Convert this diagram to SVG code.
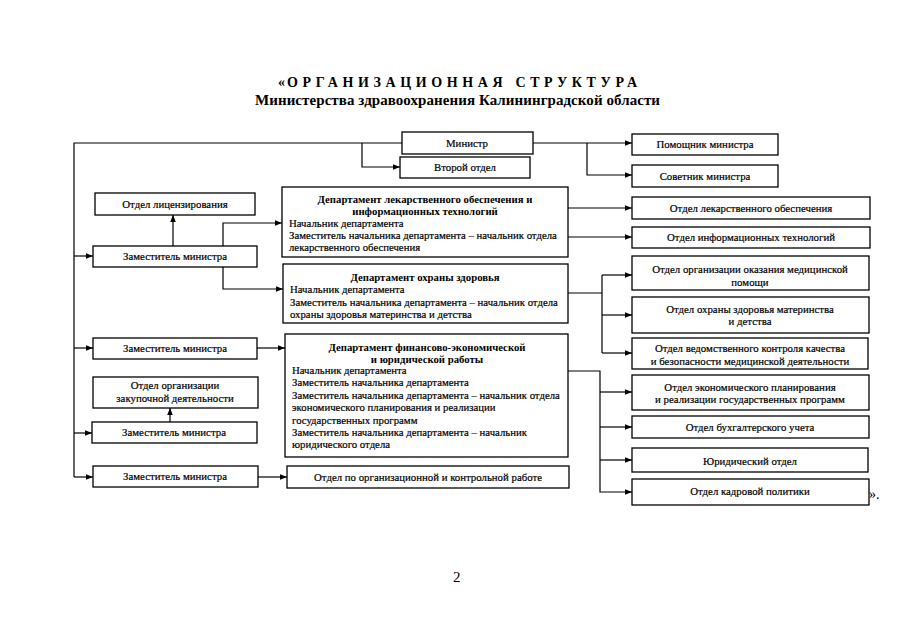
<svg xmlns="http://www.w3.org/2000/svg" width="905" height="640" viewBox="0 0 905 640">
<style>
  .bx{fill:#fff;stroke:#000;stroke-width:1.3}
  .ln{fill:none;stroke:#000;stroke-width:1.2}
  .ar{fill:none;stroke:#000;stroke-width:1.2;marker-end:url(#ah)}
  text{font-family:"Liberation Serif","Times New Roman",serif;fill:#000}
  .lb{font-size:10.8px;text-anchor:middle;stroke:#000;stroke-width:0.2}
  .tt{font-size:10.75px;font-weight:bold;text-anchor:middle}
  .bd{font-size:10.75px;stroke:#000;stroke-width:0.2}
  .h1{font-size:14px;font-weight:bold}
  .h2{font-size:15px;font-weight:bold}
</style>
<defs>
  <marker id="ah" viewBox="0 0 10 10" refX="10" refY="5" markerWidth="7" markerHeight="7" markerUnits="userSpaceOnUse" orient="auto">
    <path d="M0,1 L10,5 L0,9 z" fill="#000"/>
  </marker>
</defs>
<rect width="905" height="640" fill="#fff"/>

<g id="title">
  <text class="h1" x="278" y="87">«</text>
  <text class="h1" x="287" y="87" textLength="350" lengthAdjust="spacing">ОРГАНИЗАЦИОННАЯ СТРУКТУРА</text>
  <text class="h2" x="255" y="105" textLength="405" lengthAdjust="spacing">Министерства здравоохранения Калининградской области</text>
</g>

<g id="connectors">
  <path class="ln" d="M402,143 H74 V477"/>
  <path class="ar" d="M362,143 V167 H400"/>
  <path class="ar" d="M74,256 H93"/>
  <path class="ar" d="M74,348 H93"/>
  <path class="ar" d="M74,433 H92"/>
  <path class="ar" d="M74,477 H93"/>
  <path class="ar" d="M173,246 V215"/>
  <path class="ar" d="M223,246 V223 H282"/>
  <path class="ar" d="M223,267 V289 H283"/>
  <path class="ar" d="M257,348 H285"/>
  <path class="ar" d="M170,422 V408"/>
  <path class="ar" d="M258,477 H287"/>
  <path class="ar" d="M533,143 H632"/>
  <path class="ar" d="M587,143 V175 H632"/>
  <path class="ar" d="M568,208 H632"/>
  <path class="ar" d="M568,237 H632"/>
  <path class="ln" d="M568,293 H602 M602,275 V353"/>
  <path class="ar" d="M602,275 H632"/>
  <path class="ar" d="M602,315 H632"/>
  <path class="ar" d="M602,353 H632"/>
  <path class="ar" d="M568,371 H600 V492 H632"/>
  <path class="ar" d="M600,392 H632"/>
  <path class="ar" d="M600,427 H632"/>
  <path class="ar" d="M600,460 H632"/>
</g>

<g id="minister">
  <rect class="bx" x="402" y="132" width="131" height="22"/>
  <text class="lb" x="467" y="147">Министр</text>
</g>
<g id="second-dept">
  <rect class="bx" x="400" y="157" width="130" height="21"/>
  <text class="lb" x="465" y="171">Второй отдел</text>
</g>
<g id="assistant">
  <rect class="bx" x="632" y="134" width="146" height="21"/>
  <text class="lb" x="705" y="148">Помощник министра</text>
</g>
<g id="advisor">
  <rect class="bx" x="632" y="165" width="146" height="22"/>
  <text class="lb" x="705" y="180">Советник министра</text>
</g>

<g id="licensing">
  <rect class="bx" x="95" y="193" width="160" height="22"/>
  <text class="lb" x="175" y="208">Отдел лицензирования</text>
</g>
<g id="deputy1">
  <rect class="bx" x="93" y="246" width="164" height="21"/>
  <text class="lb" x="175" y="260">Заместитель министра</text>
</g>
<g id="deputy2">
  <rect class="bx" x="93" y="338" width="164" height="21"/>
  <text class="lb" x="175" y="352">Заместитель министра</text>
</g>
<g id="procurement">
  <rect class="bx" x="93" y="377" width="165" height="31"/>
  <text class="lb" x="175" y="389">Отдел организации</text>
  <text class="lb" x="175" y="402">закупочной деятельности</text>
</g>
<g id="deputy3">
  <rect class="bx" x="92" y="422" width="165" height="21"/>
  <text class="lb" x="174" y="436">Заместитель министра</text>
</g>
<g id="deputy4">
  <rect class="bx" x="93" y="466" width="165" height="21"/>
  <text class="lb" x="175" y="480">Заместитель министра</text>
</g>

<g id="dept-pharma">
  <rect class="bx" x="282" y="187" width="286" height="70"/>
  <text class="tt" x="425" y="203">Департамент лекарственного обеспечения и</text>
  <text class="tt" x="425" y="215">информационных технологий</text>
  <text class="bd" x="289" y="227">Начальник департамента</text>
  <text class="bd" x="289" y="239">Заместитель начальника департамента – начальник отдела</text>
  <text class="bd" x="289" y="251">лекарственного обеспечения</text>
</g>
<g id="dept-health">
  <rect class="bx" x="283" y="264" width="285" height="59"/>
  <text class="tt" x="425" y="281">Департамент охраны здоровья</text>
  <text class="bd" x="290" y="293">Начальник департамента</text>
  <text class="bd" x="290" y="305.5">Заместитель начальника департамента – начальник отдела</text>
  <text class="bd" x="290" y="318">охраны здоровья материнства и детства</text>
</g>
<g id="dept-finance">
  <rect class="bx" x="285" y="334" width="283" height="123"/>
  <text class="tt" x="427" y="351">Департамент финансово-экономической</text>
  <text class="tt" x="427" y="363">и юридической работы</text>
  <text class="bd" x="292" y="374">Начальник департамента</text>
  <text class="bd" x="292" y="386">Заместитель начальника департамента</text>
  <text class="bd" x="292" y="398.5">Заместитель начальника департамента – начальник отдела</text>
  <text class="bd" x="292" y="411">экономического планирования и реализации</text>
  <text class="bd" x="292" y="423.5">государственных программ</text>
  <text class="bd" x="292" y="436">Заместитель начальника департамента – начальник</text>
  <text class="bd" x="292" y="448">юридического отдела</text>
</g>
<g id="org-control">
  <rect class="bx" x="287" y="466" width="282" height="22"/>
  <text class="lb" x="428" y="481">Отдел по организационной и контрольной работе</text>
</g>

<g id="pharma-supply">
  <rect class="bx" x="632" y="197" width="238" height="22"/>
  <text class="lb" x="751" y="212">Отдел лекарственного обеспечения</text>
</g>
<g id="it">
  <rect class="bx" x="632" y="227" width="238" height="21"/>
  <text class="lb" x="751" y="241">Отдел информационных технологий</text>
</g>
<g id="medical-care">
  <rect class="bx" x="632" y="256" width="237" height="34"/>
  <text class="lb" x="750" y="273">Отдел организации оказания медицинской</text>
  <text class="lb" x="750" y="286">помощи</text>
</g>
<g id="maternity">
  <rect class="bx" x="632" y="297" width="237" height="36"/>
  <text class="lb" x="750" y="313">Отдел охраны здоровья материнства</text>
  <text class="lb" x="750" y="325">и детства</text>
</g>
<g id="quality">
  <rect class="bx" x="632" y="338" width="236" height="31"/>
  <text class="lb" x="750" y="352">Отдел ведомственного контроля качества</text>
  <text class="lb" x="750" y="365">и безопасности медицинской деятельности</text>
</g>
<g id="economic">
  <rect class="bx" x="632" y="375" width="237" height="35"/>
  <text class="lb" x="750" y="391">Отдел экономического планирования</text>
  <text class="lb" x="750" y="403">и реализации государственных программ</text>
</g>
<g id="accounting">
  <rect class="bx" x="632" y="416" width="237" height="22"/>
  <text class="lb" x="750" y="431">Отдел бухгалтерского учета</text>
</g>
<g id="legal">
  <rect class="bx" x="632" y="448" width="236" height="24"/>
  <text class="lb" x="750" y="465">Юридический отдел</text>
</g>
<g id="hr">
  <rect class="bx" x="632" y="479" width="237" height="26"/>
  <text class="lb" x="750" y="495">Отдел кадровой политики</text>
</g>

<text x="869" y="499" style="font-size:14px">».</text>
<text x="453" y="582" style="font-size:15px">2</text>
</svg>
